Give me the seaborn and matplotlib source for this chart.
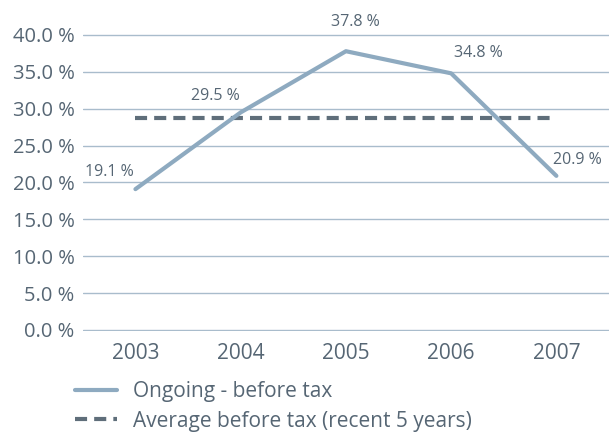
import matplotlib
matplotlib.use("Agg")
import matplotlib.pyplot as plt
import seaborn as sns
import pandas as pd
from matplotlib.lines import Line2D

years = ["2003", "2004", "2005", "2006", "2007"]
ongoing_before_tax = [19.1, 29.5, 37.8, 34.8, 20.9]
average_before_tax = 28.7
y_ticks = [0, 5, 10, 15, 20, 25, 30, 35, 40]
series_labels = ["Ongoing - before tax", "Average before tax (recent 5 years)"]

LINE_COLOR = "#8eaac0"
AVG_COLOR = "#5f6e7a"
TEXT_COLOR = "#566674"
GRID_COLOR = "#a9bccc"

sns.set_theme(style="white")
plt.rcParams["font.family"] = ["Open Sans", "DejaVu Sans"]

df = pd.DataFrame({"year": years, "value": ongoing_before_tax})
df_avg = pd.DataFrame({"year": years, "value": [average_before_tax] * len(years)})

fig = plt.figure(figsize=(6.09, 4.32), dpi=100)
ax = fig.add_axes([0.136, 0.2327, 0.864, 0.7034])

sns.lineplot(data=df_avg, x="year", y="value", ax=ax, color=AVG_COLOR,
             linewidth=3.0, dashes=False, sort=False)
ax.lines[-1].set_dashes([2.9, 1.7])
sns.lineplot(data=df, x="year", y="value", ax=ax, color=LINE_COLOR,
             linewidth=3.0, sort=False)

ax.set_xlim(-0.5, 4.5)
ax.set_ylim(-0.2, 41)
ax.set_yticks(y_ticks)
ax.set_yticklabels([f"{v:.1f} %" for v in y_ticks])
ax.set_xlabel("")
ax.set_ylabel("")
for s in ax.spines.values():
    s.set_visible(False)
ax.yaxis.grid(True, color=GRID_COLOR, linewidth=1.0)
ax.set_axisbelow(True)
ax.tick_params(axis="y", length=0, pad=6, labelsize=14.5, labelcolor=TEXT_COLOR)
ax.tick_params(axis="x", length=0, pad=8, labelsize=15, labelcolor=TEXT_COLOR)

# value labels next to each point
offsets = [(-0.243, 2.3), (-0.24, 2.2), (0.09, 3.96), (0.26, 2.76), (0.195, 2.15)]
for i, (v, (dx, dy)) in enumerate(zip(ongoing_before_tax, offsets)):
    ax.text(i + dx, v + dy, f"{v:.1f} %", ha="center", va="center",
            fontsize=11.5, color=TEXT_COLOR)

handles = [Line2D([], [], color=LINE_COLOR, linewidth=3.0),
           Line2D([], [], color=AVG_COLOR, linewidth=3.0, dashes=[2.9, 1.7])]
fig.legend(handles, series_labels, loc="upper left",
           bbox_to_anchor=(0.123, 0.118), frameon=False, fontsize=15,
           handlelength=2.0, handletextpad=0.77, labelspacing=0.42,
           labelcolor=TEXT_COLOR, borderaxespad=0, borderpad=0)

fig.savefig("out.png", dpi=100, facecolor="white")
